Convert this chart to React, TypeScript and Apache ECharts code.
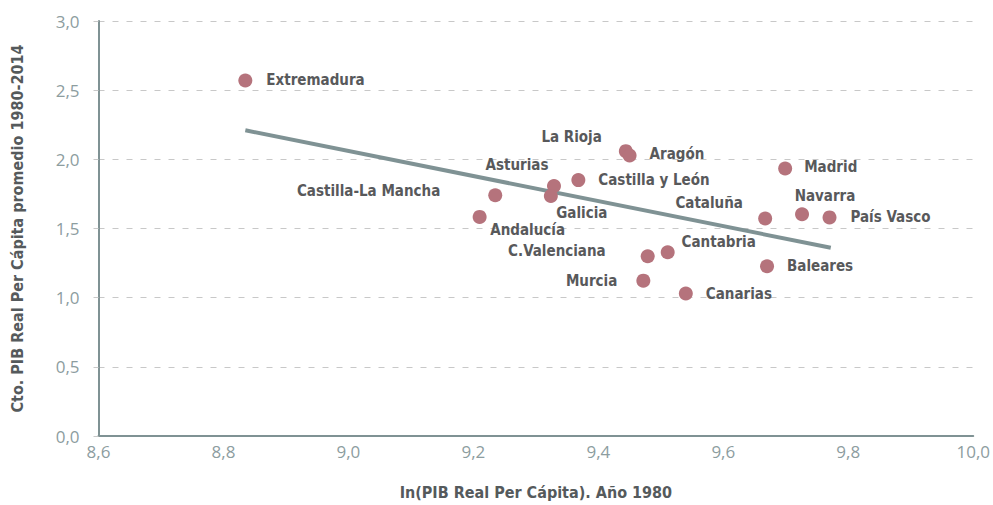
import React, { useEffect, useRef } from "react";
import * as echarts from "echarts";

const regions = [
  "Extremadura", "La Rioja", "Aragón", "Madrid", "Castilla y León", "Asturias",
  "Castilla-La Mancha", "Galicia", "Navarra", "País Vasco", "Cataluña", "Andalucía",
  "Cantabria", "C.Valenciana", "Baleares", "Murcia", "Canarias",
];
const pibLog1980 = [
  8.835, 9.444, 9.450, 9.699, 9.368, 9.329,
  9.235, 9.324, 9.726, 9.770, 9.667, 9.210,
  9.511, 9.479, 9.670, 9.472, 9.540,
];
const growthAvg = [
  2.570, 2.059, 2.028, 1.934, 1.850, 1.807,
  1.740, 1.735, 1.603, 1.580, 1.572, 1.584,
  1.328, 1.299, 1.227, 1.123, 1.030,
];
const trendX = [8.835, 9.772];
const trendY = [2.210, 1.361];

const xTicks = ["8,6", "8,8", "9,0", "9,2", "9,4", "9,6", "9,8", "10,0"];
const yTicks = ["0,0", "0,5", "1,0", "1,5", "2,0", "2,5", "3,0"];

// label layout: [align, dx, dy] relative to the dot centre (pixels)
const labelLayout: Record<string, [string, number, number]> = {
  "Extremadura": ["left", 21, 0],
  "La Rioja": ["right", -24, -14],
  "Aragón": ["left", 20, -1],
  "Madrid": ["left", 19, -1],
  "Castilla y León": ["left", 20, 0],
  "Asturias": ["center", -37, -21],
  "Castilla-La Mancha": ["right", -55, -4],
  "Galicia": ["center", 31, 17],
  "Navarra": ["center", 23, -18],
  "País Vasco": ["left", 21, 0],
  "Cataluña": ["center", -56, -16],
  "Andalucía": ["center", 48, 13],
  "Cantabria": ["center", 51, -10],
  "C.Valenciana": ["right", -42, -5],
  "Baleares": ["left", 20, 0],
  "Murcia": ["right", -26, 0],
  "Canarias": ["left", 20, 0],
};

const LABEL_FONT = "'DejaVu Sans Condensed', 'Liberation Sans Narrow', sans-serif";
const TICK_FONT = "'Open Sans', 'Noto Sans', sans-serif";

export default function App() {
  const ref = useRef<HTMLDivElement>(null);
  useEffect(() => {
    if (!ref.current) return;
    const chart = echarts.init(ref.current, undefined, { renderer: "svg" });
    const pts = regions.map((name, i) => {
      const [align, dx, dy] = labelLayout[name];
      return {
        name,
        value: [pibLog1980[i], growthAvg[i]],
        label: {
          show: true,
          position: "inside",
          align,
          verticalAlign: "middle",
          offset: [dx, dy],
          formatter: name,
        },
      };
    });
    chart.setOption({
      animation: false,
      grid: { left: 98.5, right: 18, top: 21, bottom: 67.3, containLabel: false },
      xAxis: {
        type: "value",
        min: 8.6,
        max: 10.0,
        interval: 0.2,
        name: "In(PIB Real Per Cápita). Año 1980",
        nameLocation: "middle",
        nameGap: 48,
        nameTextStyle: { fontFamily: LABEL_FONT, fontWeight: "bold", fontSize: 16, color: "#555a5c" },
        axisLine: { show: true, onZero: false, lineStyle: { color: "#7f9294", width: 2 } },
        axisTick: { show: false },
        splitLine: { show: false },
        axisLabel: {
          margin: 7,
          fontFamily: TICK_FONT,
          fontSize: 17,
          color: "#8d9d9f",
          formatter: (v: number) => xTicks[Math.round((v - 8.6) / 0.2)] ?? "",
        },
      },
      yAxis: {
        type: "value",
        min: 0,
        max: 3.0,
        interval: 0.5,
        name: "Cto. PIB Real Per Cápita promedio 1980-2014",
        nameLocation: "middle",
        nameGap: 73,
        nameTextStyle: { fontFamily: LABEL_FONT, fontWeight: "bold", fontSize: 16, color: "#555a5c" },
        axisLine: { show: true, onZero: false, lineStyle: { color: "#7f9294", width: 2 } },
        axisTick: { show: true, length: 5, lineStyle: { color: "#c8c8c8", width: 1 } },
        splitLine: { show: true, lineStyle: { color: "#c8c8c8", type: [6, 8], width: 1 } },
        axisLabel: {
          margin: 19,
          fontFamily: TICK_FONT,
          fontSize: 17,
          color: "#8d9d9f",
          formatter: (v: number) => yTicks[Math.round(v / 0.5)] ?? "",
        },
      },
      series: [
        {
          type: "line",
          data: trendX.map((x, i) => [x, trendY[i]]),
          symbol: "none",
          lineStyle: { color: "#7f9294", width: 4 },
          silent: true,
          z: 2,
        },
        {
          type: "scatter",
          data: pts,
          symbolSize: 14,
          itemStyle: { color: "#b5737c", opacity: 1 },
          label: {
            fontFamily: LABEL_FONT,
            fontWeight: "bold",
            fontSize: 15,
            color: "#58595b",
          },
          z: 3,
        },
      ],
    });
    return () => chart.dispose();
  }, []);
  return <div ref={ref} style={{ width: 993, height: 505, position: "absolute", left: 0, top: 0 }} />;
}
